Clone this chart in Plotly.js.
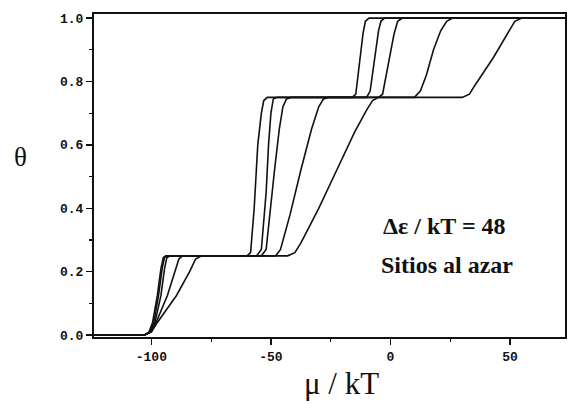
<!DOCTYPE html>
<html>
<head>
<meta charset="utf-8">
<script src="https://cdn.plot.ly/plotly-3.0.1.min.js"></script>
<style>html,body{margin:0;padding:0;background:#fff;}#chart{width:567px;height:404px;}</style>
</head>
<body>
<div id="chart"></div>
<script>
// Chemical potential (mu/kT) and coverage (theta), one pair of arrays per isotherm
const mu1 = [-124, -103, -101, -99.5, -97.5, -96, -95, -94, -60, -58.5, -57, -55.5, -54, -53, -51.5, -16, -14.5, -13, -11.5, -10.5, -9, 73];
const th1 = [0, 0, 0.01, 0.04, 0.125, 0.21, 0.245, 0.25, 0.25, 0.26, 0.40, 0.60, 0.70, 0.74, 0.75, 0.75, 0.76, 0.85, 0.95, 0.99, 1.0, 1.0];

const mu2 = [-124, -103, -100.5, -99, -97, -95.5, -94.5, -93, -56, -54, -52, -51, -50, -49, -47.5, -10, -8.5, -7, -5, -4, -2.5, 73];
const th2 = [0, 0, 0.01, 0.04, 0.125, 0.21, 0.245, 0.25, 0.25, 0.27, 0.45, 0.60, 0.70, 0.745, 0.75, 0.75, 0.77, 0.85, 0.96, 0.99, 1.0, 1.0];

const mu3 = [-124, -103, -100.5, -98.5, -96, -94.5, -93.5, -92, -54, -52, -48.5, -46.5, -45, -43.5, -41.5, -5, -3.3, -1, 1.5, 3, 5, 73];
const th3 = [0, 0, 0.01, 0.04, 0.125, 0.21, 0.245, 0.25, 0.25, 0.27, 0.52, 0.65, 0.72, 0.745, 0.75, 0.75, 0.76, 0.85, 0.95, 0.99, 1.0, 1.0];

const mu4 = [-124, -103, -100, -98, -93.3, -90, -88.5, -87, -48, -46, -42, -37.5, -33, -30, -28, -26, 10, 12.5, 15, 18, 21, 23.5, 26, 73];
const th4 = [0, 0, 0.01, 0.04, 0.125, 0.20, 0.24, 0.25, 0.25, 0.27, 0.38, 0.52, 0.65, 0.72, 0.745, 0.75, 0.75, 0.77, 0.82, 0.90, 0.96, 0.99, 1.0, 1.0];

const mu5 = [-124, -103, -100, -97.5, -89.5, -84, -81.5, -79, -43, -40, -37.5, -30, -22.5, -15, -10, -7.5, -5, 30, 33, 35.5, 43, 49, 52, 55, 73];
const th5 = [0, 0, 0.01, 0.04, 0.125, 0.20, 0.24, 0.25, 0.25, 0.26, 0.29, 0.40, 0.52, 0.64, 0.71, 0.74, 0.75, 0.75, 0.76, 0.79, 0.875, 0.95, 0.99, 1.0, 1.0];

const xTicks = [-100, -50, 0, 50];
const yTicks = [0.0, 0.2, 0.4, 0.6, 0.8, 1.0];
const yTickText = ['0.0', '0.2', '0.4', '0.6', '0.8', '1.0'];

const series = [[mu1, th1], [mu2, th2], [mu3, th3], [mu4, th4], [mu5, th5]];
const traces = series.map(([x, y], i) => ({
  x: x, y: y, type: 'scatter', mode: 'lines', name: 'isoterma ' + (i + 1),
  line: {color: '#111', width: 1.6, shape: 'linear'}, hoverinfo: 'x+y'
}));

const SERIF = 'Liberation Serif';
const MONO = 'Liberation Mono';
const tickFont = {family: MONO, size: 13, color: '#111', weight: 700};
const layout = {
  width: 567, height: 404,
  margin: {l: 94, r: 2, t: 14, b: 67},
  paper_bgcolor: '#fff', plot_bgcolor: '#fff',
  showlegend: false,
  font: {family: SERIF, color: '#111'},
  xaxis: {
    range: [-124, 73], tickmode: 'array', tickvals: xTicks, ticktext: xTicks.map(String),
    ticks: 'outside', ticklen: 6, tickwidth: 1.5, tickcolor: '#111',
    minor: {dtick: 25, tick0: 0, ticks: 'outside', ticklen: 3, tickcolor: '#111', tickwidth: 1.2},
    showline: true, linecolor: '#111', linewidth: 2, mirror: true,
    showgrid: false, zeroline: false, tickfont: tickFont
  },
  yaxis: {
    range: [-0.006, 1.013], tickmode: 'array', tickvals: yTicks, ticktext: yTickText,
    ticks: 'outside', ticklen: 6, tickwidth: 1.5, tickcolor: '#111',
    minor: {dtick: 0.1, tick0: 0, ticks: 'outside', ticklen: 3, tickcolor: '#111', tickwidth: 1.2},
    showline: true, linecolor: '#111', linewidth: 2, mirror: true,
    showgrid: false, zeroline: false, tickfont: tickFont
  },
  annotations: [
    {xref: 'paper', yref: 'paper', x: 0.745, y: 0.344, text: 'Δε / kT = 48', showarrow: false,
     xanchor: 'center', yanchor: 'middle',
     font: {family: SERIF, size: 24, color: '#111', weight: 700}},
    {xref: 'paper', yref: 'paper', x: 0.749, y: 0.223, text: 'Sitios al azar', showarrow: false,
     xanchor: 'center', yanchor: 'middle',
     font: {family: SERIF, size: 24, color: '#111', weight: 700}},
    {xref: 'paper', yref: 'paper', x: (341 - 94) / 471, y: -(383 - 337) / 323, text: 'μ / kT', showarrow: false,
     xanchor: 'center', yanchor: 'middle',
     font: {family: SERIF, size: 31, color: '#111'}},
    {xref: 'paper', yref: 'paper', x: -(94 - 20) / 471, y: (337 - 157) / 323, text: 'θ', showarrow: false,
     xanchor: 'center', yanchor: 'middle',
     font: {family: SERIF, size: 27, color: '#111'}}
  ]
};

Plotly.newPlot('chart', traces, layout, {staticPlot: true, displayModeBar: false});
</script>
</body>
</html>
